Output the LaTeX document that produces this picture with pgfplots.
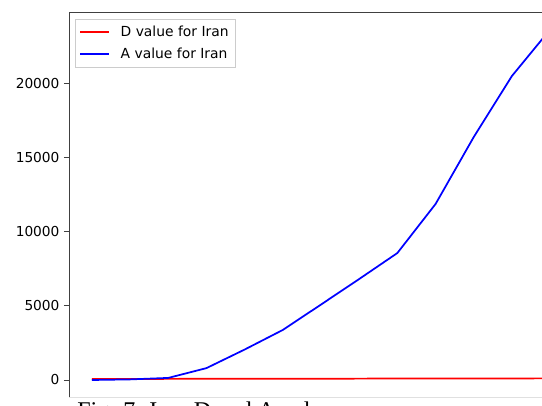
\documentclass[border=0pt]{standalone}
\usepackage{pgfplots}
\pgfplotsset{compat=1.18}
\usepackage{fontspec}
\setmainfont{DejaVu Sans}
\newfontfamily\capfont{Liberation Serif}
\definecolor{dline}{rgb}{1,0,0}
\definecolor{aline}{rgb}{0,0,1}

\begin{document}
\begin{tikzpicture}
% visible page
\path[use as bounding box] (0pt,0pt) rectangle (406.5pt,-303.75pt);
\begin{axis}[
  at={(51.75pt,-9pt)}, anchor=north west,
  scale only axis, width=378pt, height=289.125pt,
  xmin=-0.6, xmax=12.6,
  ymin=-1180, ymax=24781,
  xtick=\empty,
  ytick={0,5000,10000,15000,20000},
  scaled y ticks=false,
  /pgf/number format/assume math mode=true,
  yticklabel style={/pgf/number format/fixed, /pgf/number format/1000 sep={},
    font=\fontsize{10.3pt}{12pt}\selectfont, inner sep=0pt, xshift=-3.2pt},
  tick align=outside,
  major tick length=3.75pt,
  tick style={black!75, line width=0.6pt},
  axis line style={draw=none},
  legend cell align=left,
  legend style={at={(0.012,0.983)}, anchor=north west,
    draw=black!20,
    font=\fontsize{10.4pt}{12pt}\selectfont,
    inner xsep=3pt, inner ysep=3pt, row sep=3.45pt, column sep=6pt},
  legend image code/.code={\draw[#1] (0pt,0pt) -- (21.75pt,0pt);},
]
\addplot[draw=dline, line width=1.3pt] coordinates {
  (0,70) (1,72) (2,75) (3,78) (4,80) (5,84) (6,88)
  (7,92) (8,95) (9,98) (10,102) (11,106) (12,110)};
\addlegendentry{D value for Iran}
\addplot[draw=aline, line width=1.3pt] coordinates {
  (0,0) (1,40) (2,140) (3,800) (4,2050) (5,3370) (6,5080)
  (7,6800) (8,8550) (9,11850) (10,16360) (11,20470) (12,23600)};
\addlegendentry{A value for Iran}
% frame: left and top spines, faint bottom edge
\draw[black!75, line width=0.6pt] (rel axis cs:0,0) -- (rel axis cs:0,1) -- (rel axis cs:1,1) -- (rel axis cs:1,0);
\draw[black!12, line width=0.6pt] (rel axis cs:0,0) -- (rel axis cs:1,0);
\end{axis}
\node[anchor=base west, inner sep=0pt, font=\capfont\fontsize{18pt}{20pt}\selectfont]
  at (57.75pt,-313.5pt) {Fig. 7. Iran D and A values};
\end{tikzpicture}
\end{document}
